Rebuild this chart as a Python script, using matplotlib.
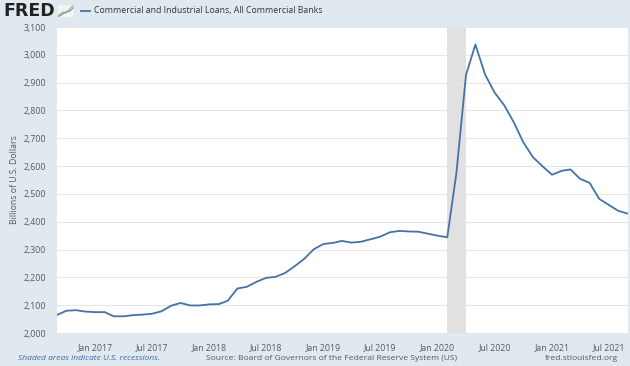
import matplotlib
matplotlib.use("Agg")
import matplotlib.pyplot as plt
import matplotlib.dates as mdates
import matplotlib.ticker as mticker
import pandas as pd

# Monthly C&I loans, billions of dollars (Sep 2016 .. Sep 2021)
start_month = "2016-09-01"
loans = [2065, 2080, 2082, 2077, 2075, 2075, 2060, 2060, 2064, 2066,
         2069, 2078, 2098, 2108, 2099, 2099, 2103, 2104, 2116, 2160,
         2166, 2184, 2198, 2202, 2216, 2240, 2267, 2301, 2320, 2324,
         2331, 2325, 2328, 2337, 2346, 2362, 2367, 2365, 2364, 2357,
         2350, 2344, 2573, 2928, 3037, 2929, 2865, 2819, 2757, 2686,
         2632, 2600, 2569, 2583, 2588, 2554, 2540, 2482, 2461, 2439,
         2429]
recession = ("2020-02-01", "2020-04-01")
tick_dates = ["2017-01-01", "2017-07-01", "2018-01-01", "2018-07-01", "2019-01-01",
              "2019-07-01", "2020-01-01", "2020-07-01", "2021-01-01", "2021-07-01"]
yticks = list(range(2000, 3101, 100))

BG = "#E1E9F0"
LINE = "#4572A7"
TXT = "#595959"

dates = pd.date_range(start_month, periods=len(loans), freq="MS")

plt.rcParams["font.family"] = ["Open Sans", "DejaVu Sans"]
fig = plt.figure(figsize=(6.3, 3.66), dpi=100, facecolor=BG)
ax = fig.add_axes([57 / 630, 1 - 333 / 366, 571 / 630, 306 / 366])
ax.set_facecolor("white")

ax.axvspan(pd.Timestamp(recession[0]), pd.Timestamp(recession[1]),
           color="#E1E1E1", lw=0, zorder=1)
ax.plot(dates, loans, color=LINE, lw=1.3, zorder=3)

ax.set_xlim(dates[0], dates[-1])
ax.set_ylim(2000, 3100)
ax.set_yticks(yticks)
ax.yaxis.set_major_formatter(mticker.FuncFormatter(lambda v, p: f"{int(v):,}"))
ax.set_xticks([pd.Timestamp(d) for d in tick_dates])
ax.xaxis.set_major_formatter(mdates.DateFormatter("%b %Y"))
ax.grid(axis="y", color="#E6E6E6", lw=0.8, zorder=0)
ax.grid(axis="x", visible=False)
ax.tick_params(length=0, labelsize=6.3, colors=TXT, pad=8)
ax.tick_params(axis="x", pad=7)
for s in ax.spines.values():
    s.set_visible(False)
ax.set_ylabel("Billions of U.S. Dollars", fontsize=6.3, color=TXT)
ax.yaxis.set_label_coords(-0.066, 0.5)

# header
fig.text(3 / 630, 1 - 11 / 366, "FRED", fontsize=12.5, fontweight="black",
         color="#222222", va="center", family="DejaVu Sans")
icon = fig.add_axes([58 / 630, 1 - 17 / 366, 16 / 630, 12 / 366])
icon.set_facecolor("#F2F4F6")
icon.plot([0, 1, 2, 3, 4], [0.5, 1.5, 1.2, 2.5, 3.5], color="#9BBF6A", lw=0.8)
icon.plot([0, 1, 2, 3, 4], [0.2, 0.9, 1.6, 1.8, 2.8], color="#6C8EBF", lw=0.8)
icon.set_xticks([])
icon.set_yticks([])
for s in icon.spines.values():
    s.set_visible(False)
fig.add_artist(plt.Line2D([81 / 630, 90 / 630], [1 - 11 / 366] * 2,
                          color=LINE, lw=1.3, transform=fig.transFigure))
fig.text(94 / 630, 1 - 11 / 366, "Commercial and Industrial Loans, All Commercial Banks",
         fontsize=6.3, color="#333333", va="center")

# footer
fig.text(18 / 630, 1 - 358 / 366, "Shaded areas indicate U.S. recessions.",
         fontsize=6.1, color="#3A6BA5", style="italic", va="center")
fig.text(206 / 630, 1 - 358 / 366, "Source: Board of Governors of the Federal Reserve System (US)",
         fontsize=6.1, color=TXT, va="center")
fig.text(545 / 630, 1 - 358 / 366, "fred.stlouisfed.org",
         fontsize=6.1, color=TXT, va="center")

fig.savefig("out.png", dpi=100, facecolor=BG)
